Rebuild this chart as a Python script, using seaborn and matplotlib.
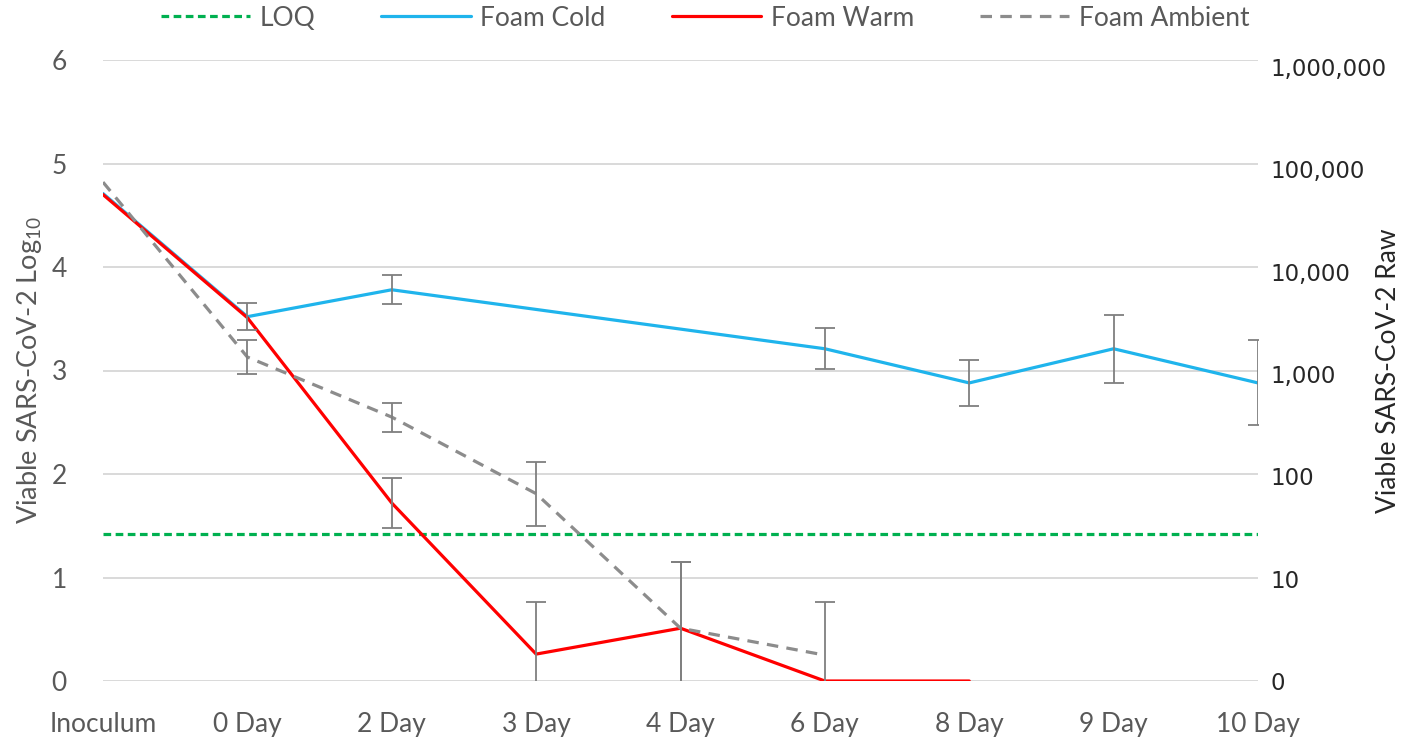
import numpy as np
import pandas as pd
import matplotlib.pyplot as plt
import seaborn as sns

# category axis (Excel style, points on tick marks)
days = ["Inoculum", "0 Day", "2 Day", "3 Day", "4 Day", "6 Day", "8 Day", "9 Day", "10 Day"]
nan = np.nan

loq = [1.42, 1.42, 1.42, 1.42, 1.42, 1.42, 1.42, 1.42, 1.42]
cold = [4.71, 3.52, 3.78, nan, nan, 3.21, 2.88, 3.21, 2.88]
cold_err = [nan, 0.13, 0.14, nan, nan, 0.20, 0.22, 0.33, 0.41]
warm = [4.70, 3.51, 1.72, 0.26, 0.51, 0.0, 0.0, nan, nan]
warm_err = [nan, nan, 0.24, 0.50, 0.64, nan, nan, nan, nan]
ambient = [4.82, 3.13, 2.55, 1.81, 0.51, 0.25, nan, nan, nan]
ambient_err = [nan, 0.16, 0.14, 0.31, 0.64, 0.51, nan, nan, nan]

raw_labels = ["0", "10", "100", "1,000", "10,000", "100,000", "1,000,000"]

sns.set_style("white")
plt.rcParams["font.family"] = ["Lato", "DejaVu Sans"]
plt.rcParams["mathtext.fontset"] = "custom"
plt.rcParams["mathtext.rm"] = "Lato"

grey = "#595959"
fig = plt.figure(figsize=(14.1, 7.4), dpi=100)
ax = fig.add_axes([103 / 1410, 1 - 681 / 740, (1258 - 103) / 1410, (681 - 60) / 740])

pos = np.arange(len(days))
series = [
    ("LOQ", loq, None, "#00B050", (0, (2.4, 1.4))),
    ("Foam Cold", cold, cold_err, "#1FB4EC", "-"),
    ("Foam Warm", warm, warm_err, "#FF0000", "-"),
    ("Foam Ambient", ambient, ambient_err, "#8C8C8C", (0, (3.6, 2.6))),
]

for name, vals, err, col, ls in series:
    df = pd.DataFrame({"pos": pos, "val": vals}).dropna()
    sns.lineplot(data=df, x="pos", y="val", ax=ax, color=col, linewidth=2.3,
                 linestyle=ls, label=name, errorbar=None, zorder=3)
    if err is not None:
        e = pd.DataFrame({"pos": pos, "val": vals, "err": err}).dropna()
        ax.errorbar(e["pos"], e["val"], yerr=e["err"], fmt="none", ecolor="#7F7F7F",
                    elinewidth=1.3, capsize=7, capthick=1.3, zorder=4)

handles, labels = ax.get_legend_handles_labels()
ax.get_legend().remove()
fig.legend(handles, labels, loc="center", bbox_to_anchor=(0.5, 1 - 18 / 740), ncol=4,
           frameon=False, fontsize=19, handlelength=3.4, handletextpad=0.35,
           columnspacing=2.5, labelcolor=grey)

ax.set_xlim(0, 8)
ax.set_ylim(0, 6)
ax.set_xticks(pos)
ax.set_xticklabels(days)
ax.set_yticks(range(7))
ax.yaxis.grid(True, color="#D9D9D9", linewidth=1.4)
ax.xaxis.grid(False)
ax.tick_params(axis="x", length=0, pad=22, labelsize=19, labelcolor=grey)
ax.tick_params(axis="y", length=0, pad=26, labelsize=19, labelcolor=grey)
for s in ax.spines.values():
    s.set_visible(False)
ax.set_xlabel("")
ax.set_ylabel("Viable SARS-CoV-2 Log$_{10}$", fontsize=19.5, color=grey)
ax.yaxis.set_label_coords((44 - 103) / 1155, 0.5)

ax2 = ax.twinx()
ax2.set_ylim(0, 6.07)
ax2.set_yticks(range(7))
ax2.set_yticklabels(raw_labels, fontfamily="DejaVu Sans")
ax2.tick_params(axis="y", length=0, pad=9, labelsize=16.5, labelcolor="#262626")
ax2.grid(False)
for s in ax2.spines.values():
    s.set_visible(False)
ax2.set_ylabel("Viable SARS-CoV-2 Raw", fontsize=19, color="#262626", rotation=90)
ax2.yaxis.set_label_coords((1376 - 103) / 1155, 0.5)

fig.savefig("out.png", dpi=100)
